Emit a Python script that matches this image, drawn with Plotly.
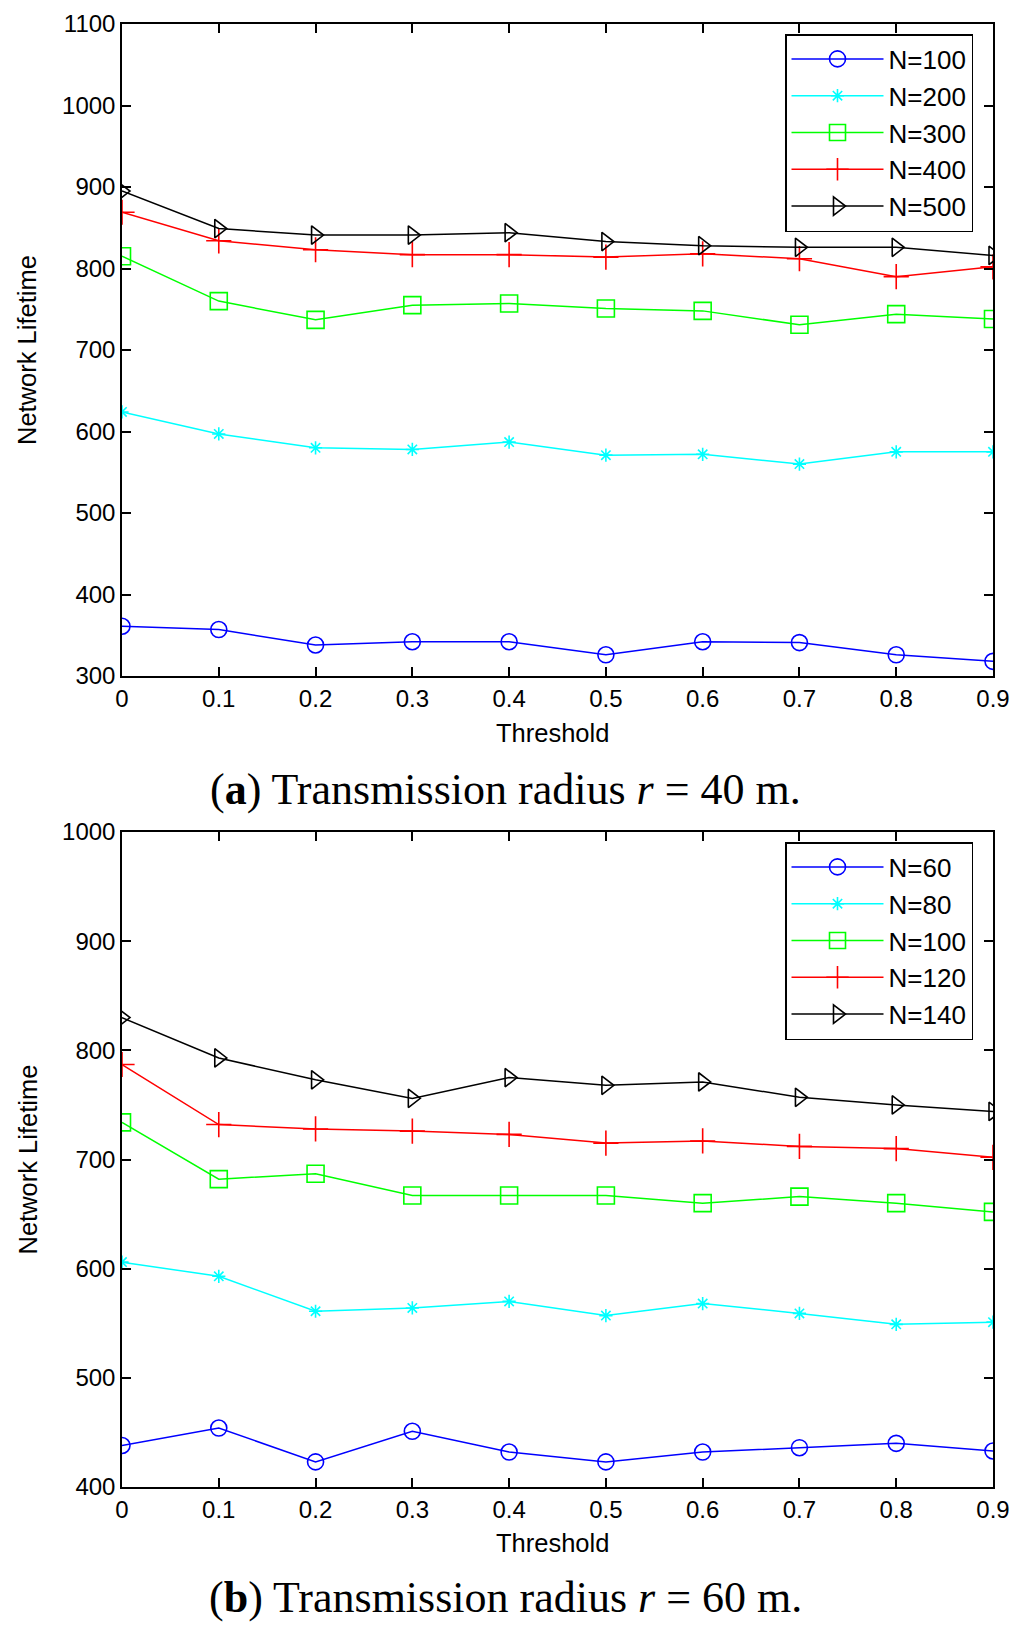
import plotly.graph_objects as go
from plotly.subplots import make_subplots

thresholds = [0, 0.1, 0.2, 0.3, 0.4, 0.5, 0.6, 0.7, 0.8, 0.9]
tick_text = ["0", "0.1", "0.2", "0.3", "0.4", "0.5", "0.6", "0.7", "0.8", "0.9"]

# Panel (a): r = 40 m
a_names = ["N=100", "N=200", "N=300", "N=400", "N=500"]
a_n100 = [361, 357, 338, 342, 342, 326, 342, 341, 326, 318]
a_n200 = [624, 597, 580, 578, 587, 571, 572, 560, 575, 575]
a_n300 = [815, 760, 737, 755, 757, 751, 748, 731, 744, 738]
a_n400 = [869, 834, 823, 817, 817, 814, 818, 812, 790, 802]
a_n500 = [895, 849, 841, 841, 844, 833, 828, 826, 826, 816]

# Panel (b): r = 60 m
b_names = ["N=60", "N=80", "N=100", "N=120", "N=140"]
b_n60 = [438, 454, 423, 451, 432, 423, 432, 436, 440, 433]
b_n80 = [606, 593, 561, 564, 570, 557, 568, 559, 549, 551]
b_n100 = [734, 682, 687, 667, 667, 667, 660, 666, 660, 652]
b_n120 = [787, 732, 728, 726, 723, 715, 717, 712, 710, 702]
b_n140 = [830, 793, 773, 756, 775, 768, 771, 757, 750, 744]

colors = ["#0000ff", "#00ffff", "#00ff00", "#ff0000", "#000000"]
symbols = ["circle-open", "asterisk-open", "square-open", "cross-thin-open", "triangle-right-open"]
sizes = [16, 11, 17, 18, 16]

W, H = 1024, 1633
OFF = 8  # page body offset

def fx(px):
    return (px - OFF) / W

def fy(py):
    return 1 - (py - OFF) / H

fig = make_subplots(rows=2, cols=1)

sans = "Liberation Sans, Arial, sans-serif"
tick_font = dict(family=sans, size=24, color="black")

def add_series(names, series, legend, row):
    for i, (name, ys) in enumerate(zip(names, series)):
        fig.add_trace(go.Scatter(x=thresholds, y=ys, name=name, mode="lines+markers",
                                 line=dict(color=colors[i], width=1.5),
                                 marker=dict(symbol=symbols[i], size=sizes[i], color=colors[i],
                                             line=dict(color=colors[i], width=1.6)),
                                 legend=legend), row=row, col=1)

add_series(a_names, [a_n100, a_n200, a_n300, a_n400, a_n500], "legend", 1)
add_series(b_names, [b_n60, b_n80, b_n100, b_n120, b_n140], "legend2", 2)

axis_common = dict(showline=True, linecolor="black", linewidth=1.5, mirror="allticks",
                   ticks="inside", ticklen=9, tickcolor="black", tickwidth=1.5,
                   showgrid=False, zeroline=False, tickfont=tick_font, automargin=False)

fig.update_xaxes(**axis_common, range=[0, 0.9], tickmode="array", tickvals=thresholds,
                 ticktext=tick_text, domain=[fx(122), fx(993)])
fig.update_yaxes(**axis_common)

fig.update_yaxes(range=[300, 1100], dtick=100, domain=[fy(676), fy(24)], row=1, col=1)
fig.update_yaxes(range=[400, 1000], dtick=100, domain=[fy(1487), fy(832)], row=2, col=1)

legend_common = dict(bgcolor="white", bordercolor="black", borderwidth=1.5,
                     font=dict(family=sans, size=26, color="black"),
                     xanchor="right", yanchor="top", tracegroupgap=0, itemwidth=92)
fig.update_layout(
    width=W, height=H,
    margin=dict(l=0, r=0, t=0, b=0),
    plot_bgcolor="white", paper_bgcolor="white",
    showlegend=True,
    legend=dict(**legend_common, x=fx(973), y=fy(34)),
    legend2=dict(**legend_common, x=fx(973), y=fy(842)),
)

title_font = dict(family=sans, size=25.5, color="black")
xmid = 552
for ycen in [(24 + 676) / 2, (832 + 1487) / 2]:
    fig.add_annotation(text="Network Lifetime", xref="paper", yref="paper", x=fx(27), y=fy(ycen),
                       textangle=-90, showarrow=False, font=title_font,
                       xanchor="center", yanchor="middle")
for yc in [733, 1543]:
    fig.add_annotation(text="Threshold", xref="paper", yref="paper", x=fx(xmid), y=fy(yc),
                       showarrow=False, font=title_font, xanchor="center", yanchor="middle")

cap_font = dict(family="Liberation Serif, Times New Roman, serif", size=44, color="black")
fig.add_annotation(text="(<b>a</b>) Transmission radius <i>r</i> = 40 m.", xref="paper", yref="paper",
                   x=fx(505), y=fy(789), showarrow=False, font=cap_font, xanchor="center", yanchor="middle")
fig.add_annotation(text="(<b>b</b>) Transmission radius <i>r</i> = 60 m.", xref="paper", yref="paper",
                   x=fx(505), y=fy(1597), showarrow=False, font=cap_font, xanchor="center", yanchor="middle")

fig.write_html("out.html")
